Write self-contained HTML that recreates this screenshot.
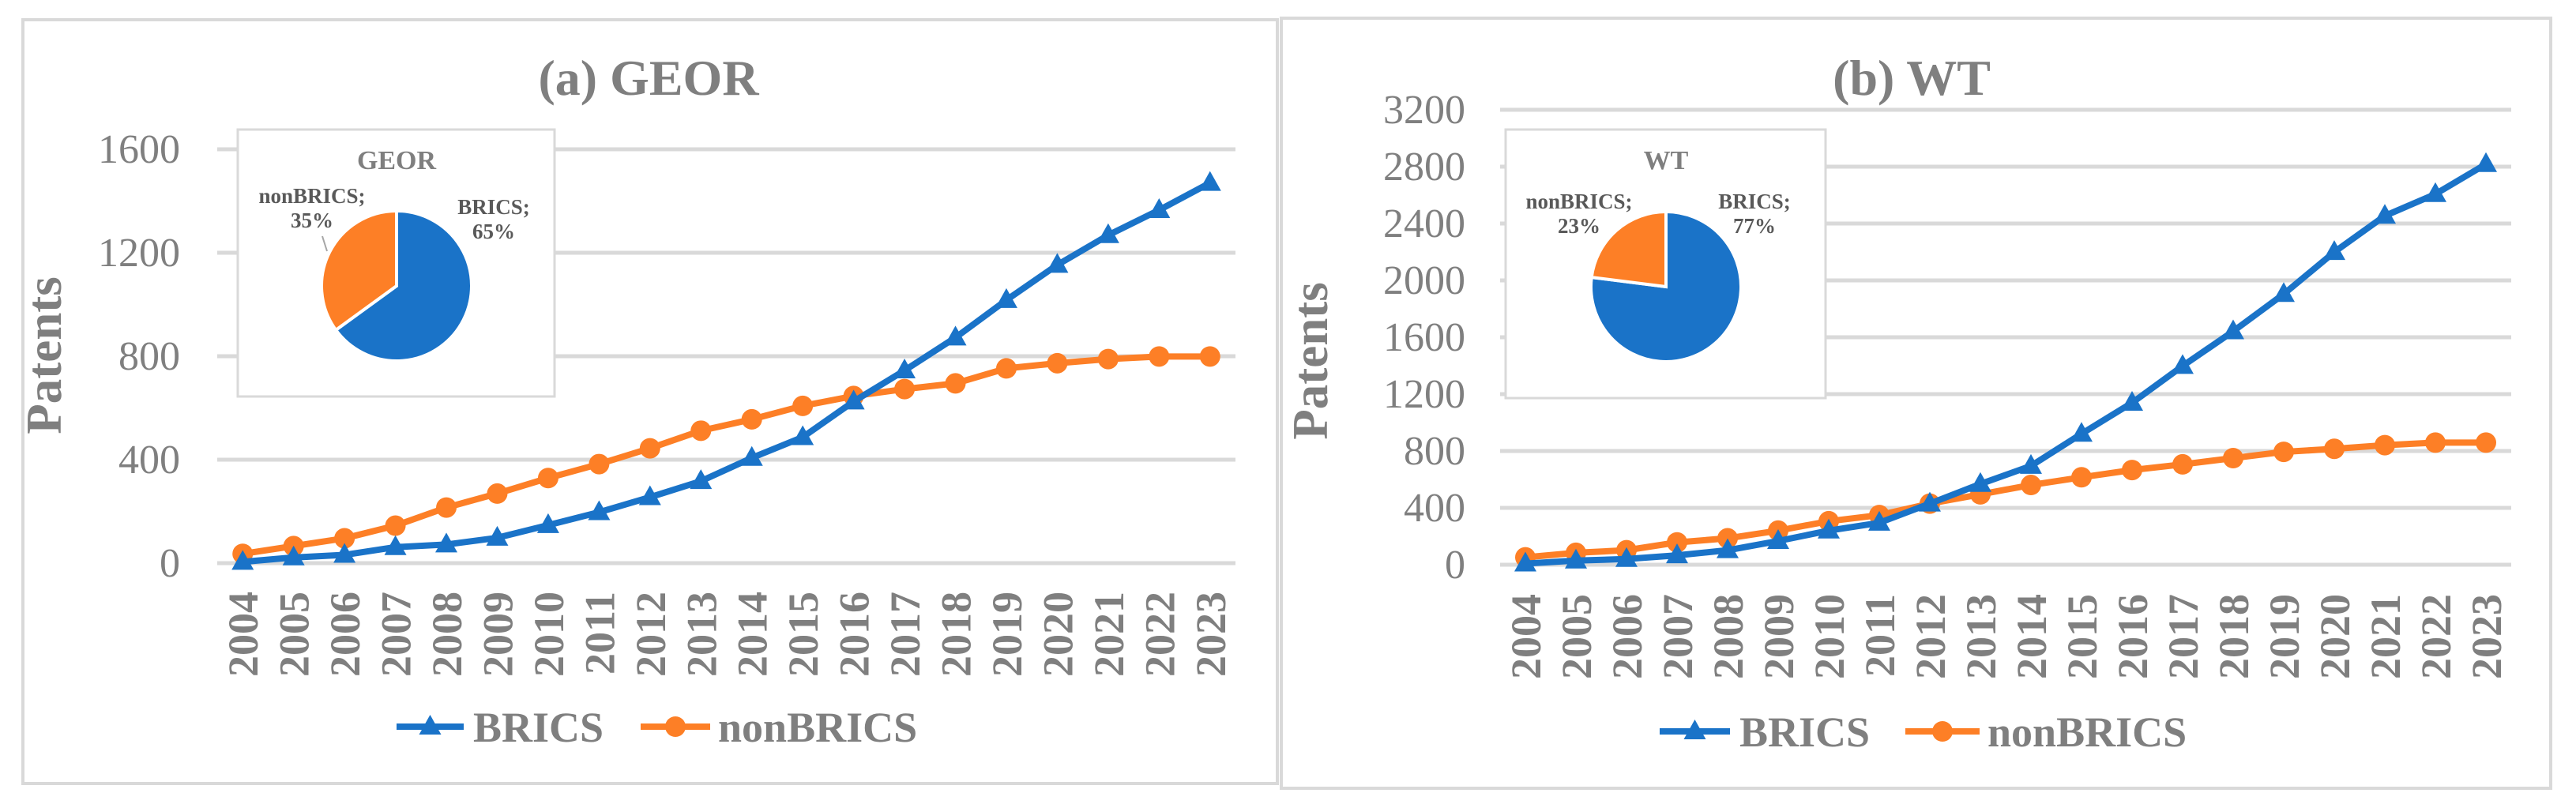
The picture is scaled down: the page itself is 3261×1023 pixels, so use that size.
<!DOCTYPE html>
<html><head><meta charset="utf-8">
<style>
html,body{margin:0;padding:0;background:#fff;}
svg{display:block;font-family:"Liberation Serif",serif;}
</style></head>
<body>
<svg id="root" width="3261" height="1023" viewBox="0 0 3261 1023" xmlns="http://www.w3.org/2000/svg"></svg>
<script>
const years = ['2004','2005','2006','2007','2008','2009','2010','2011','2012','2013','2014','2015','2016','2017','2018','2019','2020','2021','2022','2023'];
const georBrics = [5,22,32,62,72,98,147,197,255,317,407,487,625,745,872,1017,1153,1268,1365,1470];
const georNon = [36,66,96,145,215,269,329,383,444,512,556,608,646,673,695,753,773,789,799,799];
const georTicks = [0,400,800,1200,1600];
const georPie = [65,35];
const wtBrics = [8,29,40,66,102,167,240,295,430,568,695,921,1139,1398,1642,1904,2199,2454,2607,2818];
const wtNon = [52,84,102,157,186,240,306,349,430,495,561,615,666,706,750,794,815,841,859,859];
const wtTicks = [0,400,800,1200,1600,2000,2400,2800,3200];
const wtPie = [77,23];
const pieNames = ['BRICS','nonBRICS'];

const NS='http://www.w3.org/2000/svg';
const root=document.getElementById('root');
const BLUE='#1a73c8', ORANGE='#fd7f26', GRID='#d9d9d9', TXT='#7f7f7f';
function mk(tag,attrs,parent,text){const e=document.createElementNS(NS,tag);for(const k in attrs)e.setAttribute(k,attrs[k]);if(text!==undefined)e.textContent=text;(parent||root).appendChild(e);return e;}

function panel(cfg){
  const g=mk('g',{});
  
  
  const frame=mk('rect',{x:cfg.bx,y:cfg.by,width:cfg.bw,height:cfg.bh,fill:'#fff',stroke:GRID,'stroke-width':4},g);
  
  
  const t=mk('text',{x:cfg.titleX,y:cfg.titleY,'text-anchor':'middle','font-size':64,'font-weight':'bold',fill:TXT},g,cfg.title);
  
  
  const yS=v=>cfg.y0-(v/cfg.maxV)*(cfg.y0-cfg.yTop);
  const xS=i=>cfg.x0+(i+0.5)*(cfg.x1-cfg.x0)/years.length;
  cfg.ticks.forEach(v=>{
    const l=mk('line',{x1:cfg.x0,x2:cfg.x1,y1:yS(v),y2:yS(v),stroke:GRID,'stroke-width':5},g);
    
    
    const tx=mk('text',{x:cfg.tickX,y:yS(v)+17,'text-anchor':'end','font-size':52,fill:TXT},g,String(v));
    
    
  });
  years.forEach((yr,i)=>{
    const tx=mk('text',{x:0,y:0,'text-anchor':'end','font-size':54,'font-weight':'bold',fill:TXT,transform:`translate(${xS(i)+19},${cfg.yearTop}) rotate(-90)`},g,yr);
    
    
  });
  const pt=mk('text',{x:0,y:0,'text-anchor':'middle','font-size':63,'font-weight':'bold',fill:TXT,transform:`translate(${cfg.patX+22},${cfg.patY}) rotate(-90)`},g,'Patents');
  
  
  // series
  function series(vals,color,marker,name){
    const sg=mk('g',{},g);
    
    
    const d=vals.map((v,i)=>(i?'L':'M')+xS(i)+','+yS(v)).join(' ');
    const p=mk('path',{d:d,fill:'none',stroke:color,'stroke-width':8,'stroke-linejoin':'round'},sg);
    
    
    vals.forEach((v,i)=>{
      const x=xS(i),y=yS(v);
      let m;
      if(marker==='tri') m=mk('path',{d:`M${x},${y-15} L${x+14},${y+10} L${x-14},${y+10} Z`,fill:color},sg);
      else m=mk('circle',{cx:x,cy:y,r:13,fill:color},sg);
      
      
    });
  }
  series(cfg.non,ORANGE,'circ','nonbrics');
  series(cfg.brics,BLUE,'tri','brics');
  // inset pie
  const pg=mk('g',{},g);
  
  
  mk('rect',{x:cfg.px,y:cfg.py,width:cfg.pw,height:cfg.ph,fill:'#fff',stroke:GRID,'stroke-width':3},pg);
  const ptl=mk('text',{x:cfg.pcx,y:cfg.py+50,'text-anchor':'middle','font-size':34,'font-weight':'bold',fill:TXT},pg,cfg.pieTitle);
  
  
  const total=cfg.pie.reduce((a,b)=>a+b,0);
  let a0=0;
  cfg.pie.forEach((v,i)=>{
    const a1=a0+v/total*2*Math.PI;
    const r=95,cx=cfg.pcx,cy=cfg.pcy;
    const x0=cx+r*Math.sin(a0),y0=cy-r*Math.cos(a0),x1=cx+r*Math.sin(a1),y1=cy-r*Math.cos(a1);
    const s=mk('path',{d:`M${cx},${cy} L${x0},${y0} A${r},${r} 0 ${(a1-a0)>Math.PI?1:0} 1 ${x1},${y1} Z`,fill:i===0?BLUE:ORANGE,stroke:'#fff','stroke-width':4},pg);
    
    
    a0=a1;
  });
  const labs=[[cfg.bLabX,cfg.bLabY,pieNames[0],cfg.pie[0]],[cfg.nLabX,cfg.nLabY,pieNames[1],cfg.pie[1]]];
  labs.forEach(([x,y,n,v])=>{
    const t1=mk('text',{x:x,y:y,'text-anchor':'middle','font-size':27,'font-weight':'bold',fill:'#595959'},pg,n+';');
    
    
    const t2=mk('text',{x:x,y:y+31,'text-anchor':'middle','font-size':27,'font-weight':'bold',fill:'#595959'},pg,v+'%');
    
    
  });
  if(cfg.leader){const l=mk('line',{x1:cfg.leader[0],y1:cfg.leader[1],x2:cfg.leader[2],y2:cfg.leader[3],stroke:'#a6a6a6','stroke-width':2},pg);
    }
  // legend
  const lg=mk('g',{},g);
  
  
  const ly=cfg.legY;
  const e1=mk('g',{},lg);
  
  
  mk('line',{x1:cfg.l1a,x2:cfg.l1b,y1:ly,y2:ly,stroke:BLUE,'stroke-width':8},e1);
  const mx=(cfg.l1a+cfg.l1b)/2;
  mk('path',{d:`M${mx},${ly-15} L${mx+14},${ly+10} L${mx-14},${ly+10} Z`,fill:BLUE},e1);
  mk('text',{x:cfg.l1b+12,y:ly+19,'font-size':54,'font-weight':'bold',fill:TXT},e1,'BRICS');
  const e2=mk('g',{},lg);
  
  
  mk('line',{x1:cfg.l2a,x2:cfg.l2b,y1:ly,y2:ly,stroke:ORANGE,'stroke-width':8},e2);
  mk('circle',{cx:(cfg.l2a+cfg.l2b)/2,cy:ly,r:13,fill:ORANGE},e2);
  mk('text',{x:cfg.l2b+10,y:ly+19,'font-size':54,'font-weight':'bold',fill:TXT},e2,'nonBRICS');
}

panel({id:'geor',bx:29,by:25,bw:1588,bh:967,title:'(a) GEOR',titleX:821,titleY:120,
  x0:275,x1:1564,y0:713,yTop:189,maxV:1600,ticks:georTicks,tickX:228,yearTop:749,patX:55,patY:450,
  brics:georBrics,non:georNon,px:301,py:164,pw:401,ph:338,pcx:502,pcy:362,pie:georPie,pieTitle:'GEOR',
  bLabX:625,bLabY:271,nLabX:395,nLabY:257,leader:[408,299,414,318],
  legY:920,l1a:502,l1b:587,l2a:811,l2b:899});
panel({id:'wt',bx:1622,by:23,bw:1607,bh:975,title:'(b) WT',titleX:2420,titleY:120,
  x0:1899,x1:3179,y0:715,yTop:139,maxV:3200,ticks:wtTicks,tickX:1855,yearTop:752,patX:1658,patY:457,
  brics:wtBrics,non:wtNon,px:1906,py:164,pw:405,ph:340,pcx:2109,pcy:363,pie:wtPie,pieTitle:'WT',
  bLabX:2221,bLabY:264,nLabX:1999,nLabY:264,leader:null,
  legY:926,l1a:2101,l1b:2190,l2a:2412,l2b:2506});
</script>
</body></html>
